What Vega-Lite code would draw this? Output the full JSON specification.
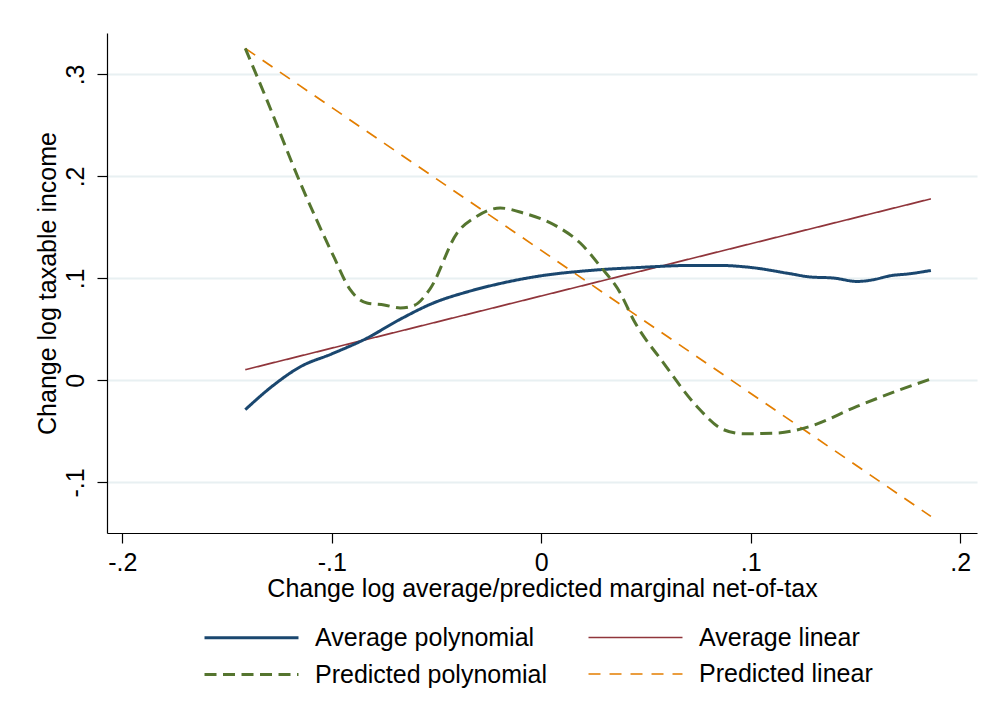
{
  "$schema": "https://vega.github.io/schema/vega-lite/v6.json",
  "width": 870,
  "height": 500,
  "autosize": {"type": "none"},
  "padding": {"left": 107, "top": 33, "right": 18, "bottom": 194},
  "background": "white",
  "config": {
    "view": {"stroke": null},
    "font": "Liberation Sans",
    "axis": {"labelFont": "Liberation Sans", "titleFont": "Liberation Sans", "labelColor": "black", "titleColor": "black", "titleFontWeight": "normal", "domainColor": "black", "tickColor": "black", "labelFontSize": 25, "titleFontSize": 25, "tickSize": 10, "domainWidth": 1.2, "tickWidth": 1.2},
    "legend": {
      "title": null,
      "orient": "none",
      "legendX": 131,
      "legendY": 591,
      "columns": 2,
      "padding": 0,
      "symbolType": "M-4,0H4",
      "symbolSize": 552,
      "labelFont": "Liberation Sans",
      "labelFontSize": 25,
      "labelColor": "black",
      "labelOffset": 50,
      "labelLimit": 400,
      "rowPadding": 10,
      "columnPadding": 37
    }
  },
  "data": {
    "values": [
      {"series": "Average linear", "x": -0.1413, "y": 0.0105},
      {"series": "Average linear", "x": 0.186, "y": 0.178},
      {"series": "Predicted linear", "x": -0.1413, "y": 0.3255},
      {"series": "Predicted linear", "x": 0.186, "y": -0.1333},
      {"series": "Average polynomial", "x": -0.1413, "y": -0.0287},
      {"series": "Average polynomial", "x": -0.128, "y": -0.005},
      {"series": "Average polynomial", "x": -0.115, "y": 0.0134},
      {"series": "Average polynomial", "x": -0.1, "y": 0.026},
      {"series": "Average polynomial", "x": -0.084, "y": 0.0406},
      {"series": "Average polynomial", "x": -0.0673, "y": 0.06},
      {"series": "Average polynomial", "x": -0.0515, "y": 0.0759},
      {"series": "Average polynomial", "x": -0.035, "y": 0.087},
      {"series": "Average polynomial", "x": -0.0196, "y": 0.095},
      {"series": "Average polynomial", "x": 0, "y": 0.1026},
      {"series": "Average polynomial", "x": 0.0234, "y": 0.1078},
      {"series": "Average polynomial", "x": 0.0473, "y": 0.1108},
      {"series": "Average polynomial", "x": 0.0711, "y": 0.1127},
      {"series": "Average polynomial", "x": 0.0854, "y": 0.1127},
      {"series": "Average polynomial", "x": 0.0998, "y": 0.1108},
      {"series": "Average polynomial", "x": 0.1189, "y": 0.1046},
      {"series": "Average polynomial", "x": 0.1284, "y": 0.1014},
      {"series": "Average polynomial", "x": 0.1394, "y": 0.1004},
      {"series": "Average polynomial", "x": 0.1508, "y": 0.097},
      {"series": "Average polynomial", "x": 0.1585, "y": 0.0987},
      {"series": "Average polynomial", "x": 0.1666, "y": 0.1026},
      {"series": "Average polynomial", "x": 0.176, "y": 0.1046},
      {"series": "Average polynomial", "x": 0.186, "y": 0.1078},
      {"series": "Predicted polynomial", "x": -0.1413, "y": 0.3255},
      {"series": "Predicted polynomial", "x": -0.131, "y": 0.275},
      {"series": "Predicted polynomial", "x": -0.115, "y": 0.1935},
      {"series": "Predicted polynomial", "x": -0.0991, "y": 0.1216},
      {"series": "Predicted polynomial", "x": -0.0912, "y": 0.0889},
      {"series": "Predicted polynomial", "x": -0.0832, "y": 0.0759},
      {"series": "Predicted polynomial", "x": -0.075, "y": 0.074},
      {"series": "Predicted polynomial", "x": -0.0673, "y": 0.071},
      {"series": "Predicted polynomial", "x": -0.061, "y": 0.0732},
      {"series": "Predicted polynomial", "x": -0.053, "y": 0.09},
      {"series": "Predicted polynomial", "x": -0.0402, "y": 0.1445},
      {"series": "Predicted polynomial", "x": -0.0307, "y": 0.161},
      {"series": "Predicted polynomial", "x": -0.0196, "y": 0.169},
      {"series": "Predicted polynomial", "x": -0.0084, "y": 0.164},
      {"series": "Predicted polynomial", "x": 0.0075, "y": 0.151},
      {"series": "Predicted polynomial", "x": 0.0186, "y": 0.1347},
      {"series": "Predicted polynomial", "x": 0.0282, "y": 0.1118},
      {"series": "Predicted polynomial", "x": 0.0377, "y": 0.0857},
      {"series": "Predicted polynomial", "x": 0.044, "y": 0.0595},
      {"series": "Predicted polynomial", "x": 0.0584, "y": 0.017},
      {"series": "Predicted polynomial", "x": 0.0743, "y": -0.0255},
      {"series": "Predicted polynomial", "x": 0.087, "y": -0.0483},
      {"series": "Predicted polynomial", "x": 0.0966, "y": -0.0523},
      {"series": "Predicted polynomial", "x": 0.1125, "y": -0.0516},
      {"series": "Predicted polynomial", "x": 0.1284, "y": -0.045},
      {"series": "Predicted polynomial", "x": 0.1507, "y": -0.0255},
      {"series": "Predicted polynomial", "x": 0.1714, "y": -0.0091},
      {"series": "Predicted polynomial", "x": 0.186, "y": 0.0014}
    ]
  },
  "mark": {"type": "line", "interpolate": "monotone"},
  "encoding": {
    "x": {
      "field": "x", "type": "quantitative",
      "scale": {"domain": [-0.2073, 0.208], "nice": false, "zero": false},
      "axis": {
        "title": "Change log average/predicted marginal net-of-tax",
        "values": [-0.2, -0.1, 0, 0.1, 0.2],
        "grid": false,
        "labelPadding": 7,
        "titlePadding": 1,
        "labelExpr": "datum.value == 0 ? '0' : (datum.value < 0 ? '-.' : '.') + round(abs(datum.value) * 10)"
      }
    },
    "y": {
      "field": "y", "type": "quantitative",
      "scale": {"domain": [-0.1496, 0.3406], "nice": false, "zero": false},
      "axis": {
        "title": "Change log taxable income",
        "values": [-0.1, 0, 0.1, 0.2, 0.3],
        "grid": true,
        "gridColor": "#e8f0f2",
        "gridWidth": 2,
        "labelAngle": -90,
        "labelAlign": "center",
        "labelBaseline": "bottom",
        "labelPadding": 9,
        "titlePadding": 3,
        "labelExpr": "datum.value == 0 ? '0' : (datum.value < 0 ? '-.' : '.') + round(abs(datum.value) * 10)"
      }
    },
    "color": {
      "field": "series", "type": "nominal",
      "scale": {
        "domain": ["Average polynomial", "Predicted polynomial", "Average linear", "Predicted linear"],
        "range": ["#1a476f", "#55752f", "#90353b", "#e37e00"]
      }
    },
    "strokeDash": {
      "field": "series", "type": "nominal",
      "scale": {
        "domain": ["Average polynomial", "Predicted polynomial", "Average linear", "Predicted linear"],
        "range": [[1, 0], [12, 6.5], [1, 0], [12, 9]]
      }
    },
    "strokeWidth": {
      "field": "series", "type": "nominal",
      "scale": {
        "type": "ordinal",
        "domain": ["Average polynomial", "Predicted polynomial", "Average linear", "Predicted linear"],
        "range": [3, 3, 1.7, 1.7]
      }
    }
  }
}
